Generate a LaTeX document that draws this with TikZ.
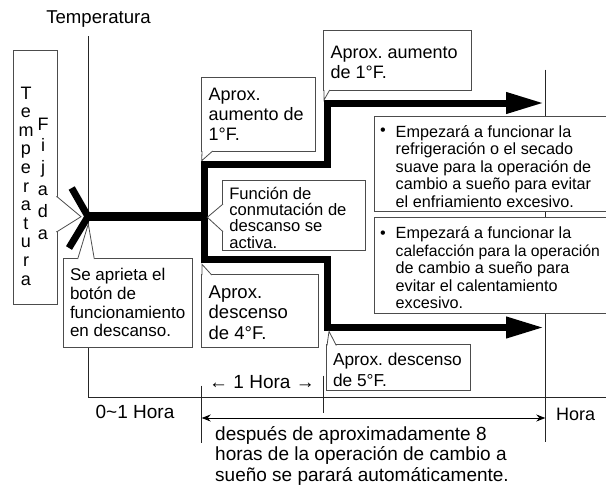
\documentclass[tikz,border=0pt]{standalone}
\usepackage{fontspec}
\setmainfont{Liberation Sans}
\usetikzlibrary{arrows.meta}

\frenchspacing
\newcommand{\bigtext}{\fontsize{18}{20}\selectfont}
\newcommand{\midtext}{\fontsize{17}{18.7}\selectfont}
\newcommand{\smalltext}{\fontsize{16.2}{17.4}\selectfont}
\newcommand{\toppad}[1]{\rule{0pt}{#1}}

\begin{document}
\begin{tikzpicture}[x=1pt,y=-1pt]
    \tikzstyle{axis}  = [line width=0.8pt,draw=black!85]
    \tikzstyle{trend} = [line width=7pt,draw=black,line join=miter]
    \tikzstyle{trendhead} = [trend,-{Triangle[length=38pt,width=20pt]},shorten >=0pt]
    \tikzstyle{span}  = [line width=0.8pt,draw=black,{Stealth[length=9pt,width=7pt]}-{Stealth[length=9pt,width=7pt]}]
    \tikzstyle{box}   = [
      draw=black!70,
      fill=white,
      line width=0.8pt,
      anchor=north west,
      align=flush left,
      inner xsep=7pt,
      inner ysep=0pt,
      outer sep=0pt,
    ]
    \tikzstyle{pointer} = [draw=black!70,fill=white,line width=0.8pt,line join=miter]
    \tikzstyle{label}   = [inner sep=0pt,align=left]

    \useasboundingbox (0,0) rectangle (606,485);

    % axes
    \coordinate (aTop) at (88,36);
    \coordinate (aOrigin) at (88,397.5);
    \coordinate (aEnd) at (606,397.5);
    \coordinate (aRightTop) at (545.3,69.5);
    \coordinate (aRightEnd) at (545.3,442);
    \coordinate (tStartTop) at (201.7,385.5);
    \coordinate (tStartEnd) at (201.7,443);
    \coordinate (tHourTop) at (323,375.5);
    \coordinate (tHourEnd) at (323,412.5);
    \draw[axis] (aTop)--(aOrigin)--(aEnd);
    \draw[axis] (aRightTop)--(aRightEnd);
    \draw[axis] (tStartTop)--(tStartEnd);
    \draw[axis] (tHourTop)--(tHourEnd);

    % temperature trend
    \coordinate (cFork) at (88,216.5);
    \coordinate (cForkUp) at (71.7,188);
    \coordinate (cForkDown) at (69,248);
    \coordinate (cSwitch) at (204,216.5);
    \coordinate (cHigh) at (204,164.5);
    \coordinate (cHighStep) at (327,164.5);
    \coordinate (cHighTop) at (327,103);
    \coordinate (cHighTip) at (544,103);
    \coordinate (cLow) at (204,259);
    \coordinate (cLowStep) at (327,259);
    \coordinate (cLowTop) at (327,327.5);
    \coordinate (cLowTip) at (544,327.5);
    \draw[trend] (cForkUp)--(cFork)--(cForkDown);
    \draw[line width=8.5pt] (cFork)--(cSwitch);
    \draw[trendhead] (cSwitch)--(cHigh)--(cHighStep)--(cHighTop)--(cHighTip);
    \draw[trendhead] (cSwitch)--(cLow)--(cLowStep)--(cLowTop)--(cLowTip);

    \draw[span] (tStartTop|-0,418)--(aRightTop|-0,418);

    % boxes
    \node[box,text width=29.5pt,minimum height=254pt] (nSet) at (13.5,50.7) {};
    \draw[pointer] (56,196.7)--(57,196.7)--(81,216.7)--(57,231.7)--(56,231.7);
    \node[label,align=center,font=\fontsize{18}{18.6}\selectfont,anchor=north] (nSetA) at (26,86.5)
      {T\\e\\m\\p\\e\\r\\a\\t\\u\\r\\a};
    \node[label,align=center,font=\fontsize{18}{21.8}\selectfont,anchor=north] (nSetB) at (43,117.5)
      {F\\i\\j\\a\\d\\a};

    \node[box,font=\midtext,text width=115.5pt,minimum height=89pt] (nPress) at (63,258.3)
      {Se aprieta el\\bot\'on de\\funcionamiento\\en descanso.};
    \draw[pointer] (77.7,259)--(88.3,224)--(94.3,259);

    \node[box,font=\bigtext,text width=99.3pt,minimum height=74pt] (nUpOne) at (201.7,77.7)
      {Aprox.\\aumento de\\1°F.};
    \draw[pointer] (202,151)--(201.7,160.7)--(212.7,151);

    \node[box,font=\bigtext,text width=134pt,minimum height=60pt] (nUpTwo) at (323.7,30.7)
      {\toppad{15pt}Aprox. aumento\\de 1°F.};
    \draw[pointer] (324,90)--(324,100)--(329.7,90);

    \node[box,font=\fontsize{16.6}{16.2}\selectfont,text width=129.4pt,minimum height=69.3pt] (nSwitch) at (222.3,180.7)
      {\toppad{17pt}Funci\'on de\\conmutaci\'on de\\descanso se\\activa.};
    \draw[pointer] (223,204)--(207.3,217.3)--(223,231.7);

    \node[box,font=\fontsize{18.5}{20.5}\selectfont,text width=102.6pt,minimum height=73.4pt] (nDownFour) at (201.7,274.3)
      {\toppad{16pt}Aprox.\\descenso\\de 4°F.};
    \draw[pointer] (202,275)--(202,264.3)--(211.7,275);

    \node[box,font=\fontsize{17.3}{21}\selectfont,text width=131pt,minimum height=46pt,inner xsep=6.3pt] (nDownFive) at (326.7,344.7)
      {\toppad{17pt}Aprox. descenso\\de 5°F.};
    \draw[pointer] (327,345.5)--(329,331.3)--(336.3,345.5);

    \node[box,font=\smalltext,text width=225pt,minimum height=95pt,inner xsep=21.7pt] (nCool) at (374,116.3)
      {\toppad{17pt}Empezar\'a a funcionar la\\refrigeraci\'on o el secado\\suave para la operaci\'on de\\cambio a sue\~no para evitar\\el enfriamiento excesivo.};
    \node[box,font=\smalltext,text width=225pt,minimum height=96pt,inner xsep=21.7pt] (nHeat) at (374,217.3)
      {\toppad{17pt}Empezar\'a a funcionar la\\{\fontsize{15.7}{17.4}\selectfont calefacci\'on para la operaci\'on}\\de cambio a sue\~no para\\evitar el calentamiento\\excesivo.};
    \node[label,font=\smalltext] (nCoolDot) at (383,132) {•};
    \node[label,font=\smalltext] (nHeatDot) at (383,235) {•};

    % plain labels
    \node[label,font=\fontsize{18.6}{20}\selectfont] (nTemp) at (98.5,19) {Temperatura};
    \node[label,font=\fontsize{19}{20}\selectfont] (nHour) at (262,381.7) {← 1 Hora →};
    \node[label,font=\fontsize{19}{20}\selectfont] (nFirst) at (135,412) {0\textasciitilde1 Hora};
    \node[label,font=\bigtext] (nHora) at (575.7,414.7) {Hora};
    \node[label,font=\fontsize{19}{20.2}\selectfont,anchor=north west] (nStop) at (215,426.5)
      {despu\'es de aproximadamente 8\\horas de la operaci\'on de cambio a\\sue\~no se parar\'a autom\'aticamente.};
\end{tikzpicture}
\end{document}
